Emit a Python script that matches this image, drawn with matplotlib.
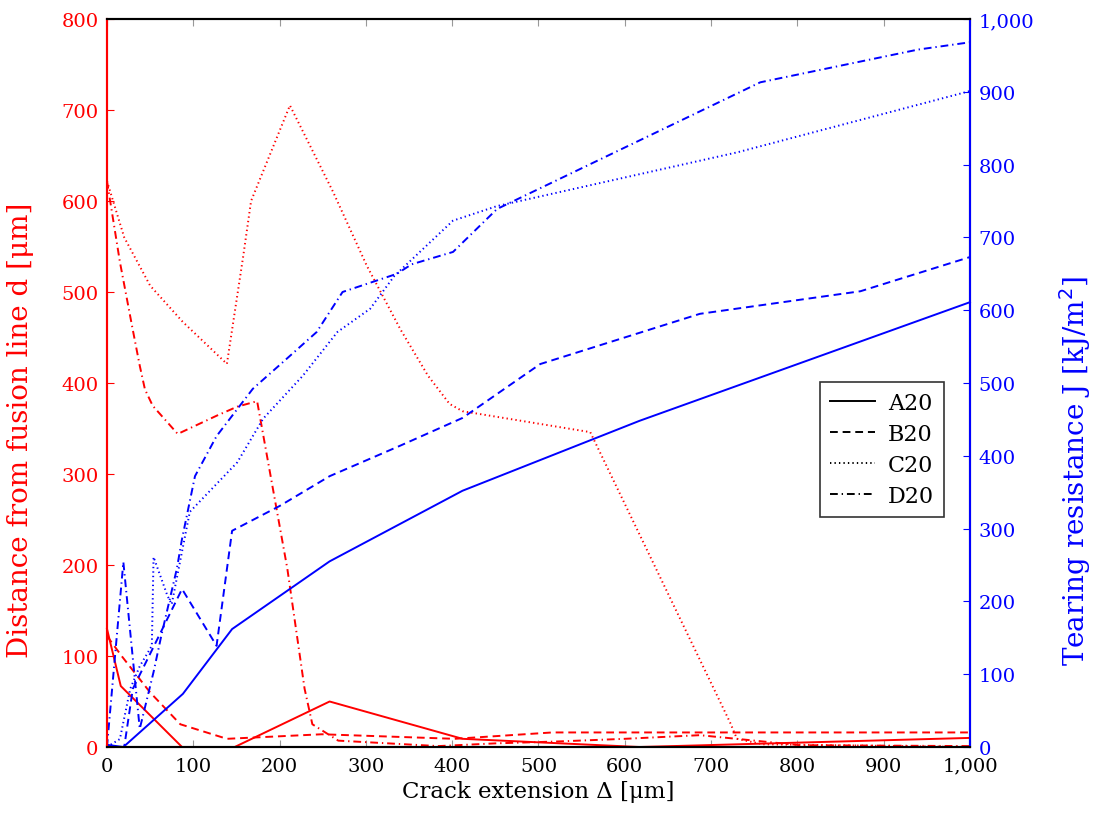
import matplotlib
matplotlib.use("Agg")
import matplotlib.pyplot as plt
from matplotlib.lines import Line2D
from matplotlib.ticker import FuncFormatter, MultipleLocator

# distance from fusion line d [um] (left axis, red)
d_A_x = [0, 16, 87, 148, 258, 412, 617, 1000]
d_A = [130, 67, 0, 0, 50, 9, 0, 10]
d_B_x = [0, 17, 50, 85, 139, 249, 403, 516, 1000]
d_B = [122, 100, 60, 25, 9, 14, 9, 16, 16]
d_C_x = [0, 20, 50, 88, 139, 158, 167, 212, 262, 301, 340, 372, 397, 412, 560, 722, 730, 760, 1000]
d_C = [622, 560, 507, 467, 421, 540, 600, 705, 610, 529, 459, 408, 377, 369, 346, 27, 9, 3, 0]
d_D_x = [0, 15, 29, 38, 44, 53, 82, 127, 151, 174, 209, 229, 238, 268, 384, 450, 520, 600, 687, 740, 803, 1000]
d_D = [622, 533, 463, 419, 393, 375, 344, 364, 374, 380, 196, 64, 25, 7, 1, 4, 6, 9, 13, 8, 2, 1]

# tearing resistance J [kJ/m^2] (right axis, blue)
J_A_x = [0, 19, 88, 145, 258, 412, 617, 1000]
J_A = [3, 0, 73, 162, 255, 352, 448, 611]
J_B_x = [0, 20, 30, 60, 87, 127, 145, 200, 258, 340, 412, 502, 687, 873, 1000]
J_B = [0, 0, 80, 152, 217, 139, 297, 331, 372, 414, 452, 526, 595, 626, 673]
J_C_x = [0, 15, 27, 38, 52, 54, 70, 75, 96, 151, 181, 227, 267, 305, 333, 401, 452, 731, 1000]
J_C = [0, 11, 80, 111, 139, 261, 208, 196, 323, 391, 451, 510, 570, 602, 647, 723, 743, 817, 901]
J_D_x = [0, 19, 38, 54, 63, 81, 87, 102, 127, 169, 208, 243, 273, 336, 353, 401, 452, 757, 940, 1000]
J_D = [0, 254, 25, 103, 153, 245, 286, 372, 427, 492, 533, 570, 625, 650, 663, 680, 739, 913, 958, 968]

labels = ["A20", "B20", "C20", "D20"]

LW = 1.4
styles = ["-", (0, (4, 2.5)), (0, (0.7, 1.6)), (0, (4, 2, 0.7, 2))]

plt.rcParams["font.family"] = ["DejaVu Serif"]

fig = plt.figure(figsize=(10.97, 8.29), dpi=100)
ax = fig.add_axes([0.0975, 0.0977, 0.7867, 0.8782])
ax2 = ax.twinx()

dist = [(d_A_x, d_A), (d_B_x, d_B), (d_C_x, d_C), (d_D_x, d_D)]
tear = [(J_A_x, J_A), (J_B_x, J_B), (J_C_x, J_C), (J_D_x, J_D)]
for (x, y), ls in zip(dist, styles):
    ax.plot(x, y, color="red", lw=LW, ls=ls, clip_on=False)
for (x, y), ls in zip(tear, styles):
    ax2.plot(x, y, color="blue", lw=LW, ls=ls, clip_on=False)

ax.set_xlim(0, 1000)
ax.set_ylim(0, 800)
ax2.set_ylim(0, 1000)
thousands = FuncFormatter(lambda v, p: f"{int(v):,}")
ax.xaxis.set_major_locator(MultipleLocator(100))
ax.xaxis.set_major_formatter(thousands)
ax.yaxis.set_major_locator(MultipleLocator(100))
ax2.yaxis.set_major_locator(MultipleLocator(100))
ax2.yaxis.set_major_formatter(thousands)

ax.tick_params(axis="x", direction="in", top=True, length=5, color="0.6", labelsize=14, pad=7)
ax.tick_params(axis="y", direction="in", length=5, color="red", labelcolor="red", labelsize=14, pad=6)
ax2.tick_params(axis="y", direction="in", length=5, color="blue", labelcolor="blue", labelsize=14, pad=6)

ax.spines["left"].set_color("red")
ax2.spines["left"].set_color("red")
ax2.spines["right"].set_color("blue")
for a in (ax, ax2):
    for s in a.spines.values():
        s.set_linewidth(1.5)

ax.set_xlabel("Crack extension \u0394 [\u03bcm]", fontsize=16.5, labelpad=4)
ax.set_ylabel("Distance from fusion line d [\u03bcm]", color="red", fontsize=20)
ax2.set_ylabel("Tearing resistance J [kJ/m$^2$]", color="blue", fontsize=20)
ax.yaxis.set_label_coords(-0.084, 0.437)
ax2.yaxis.set_label_coords(1.101, 0.38)

handles = [Line2D([], [], color="black", lw=LW, ls=ls) for ls in styles]
leg = ax2.legend(handles, labels, loc="center right", bbox_to_anchor=(0.983, 0.409),
                 frameon=True, fancybox=False, edgecolor="black", fontsize=16,
                 handlelength=2.0, borderpad=0.45, labelspacing=0.4, handletextpad=0.6)
leg.get_frame().set_linewidth(1.2)

fig.savefig("out.png", dpi=100)
